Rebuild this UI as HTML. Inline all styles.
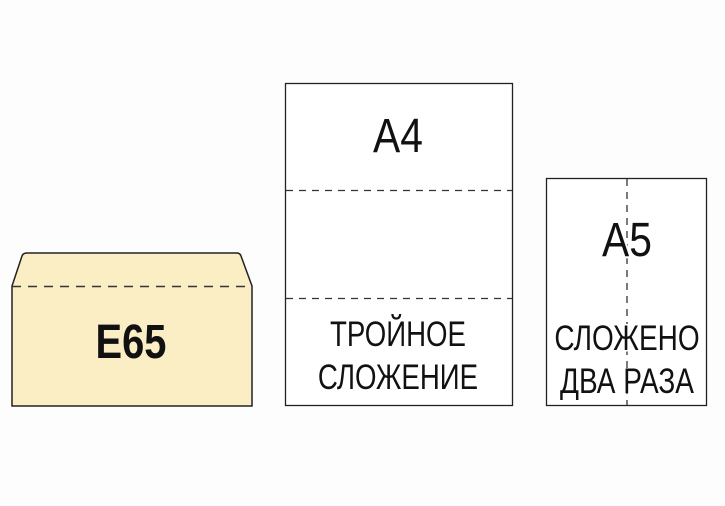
<!DOCTYPE html>
<html><head><style>
body{margin:0;background:#fdfdfd;}
svg{display:block}
text{font-family:"Liberation Sans",sans-serif;fill:#111}
</style></head><body>
<svg width="725" height="506" viewBox="0 0 725 506">
<rect width="725" height="506" fill="#fdfdfd"/>
<path d="M12,286 L22,256 Q23,253 27,253 L237,253 Q240,253 241,256 L252,286 L252,406 L12,406 Z" fill="#fbeec4" stroke="#222" stroke-width="1.5"/>
<line x1="12" y1="286.5" x2="252" y2="286.5" stroke="#333" stroke-width="1.5" stroke-dasharray="9,7"/>
<text x="131" y="358" font-size="48" font-weight="bold" text-anchor="middle" transform="translate(131 0) scale(0.83 1) translate(-131 0)">E65</text>

<rect x="285.5" y="83.5" width="227" height="322" fill="#fff" stroke="#222" stroke-width="1.3"/>
<line x1="286" y1="190.5" x2="512" y2="190.5" stroke="#333" stroke-width="1.3" stroke-dasharray="7,6"/>
<line x1="286" y1="298.5" x2="512" y2="298.5" stroke="#333" stroke-width="1.3" stroke-dasharray="7,6"/>
<text x="398" y="152" font-size="48" text-anchor="middle" transform="translate(398 0) scale(0.85 1) translate(-398 0)">A4</text>
<text x="398" y="346" font-size="35" text-anchor="middle" transform="translate(398 0) scale(0.79 1) translate(-398 0)">ТРОЙНОЕ</text>
<text x="398" y="389" font-size="35" text-anchor="middle" transform="translate(398 0) scale(0.79 1) translate(-398 0)">СЛОЖЕНИЕ</text>

<rect x="546.5" y="178.5" width="160" height="227" fill="#fff" stroke="#222" stroke-width="1.3"/>
<line x1="627" y1="179" x2="627" y2="405" stroke="#333" stroke-width="1.3" stroke-dasharray="7,6"/>
<text x="627" y="256" font-size="48" text-anchor="middle" transform="translate(627 0) scale(0.85 1) translate(-627 0)" style="paint-order:stroke" stroke="#fff" stroke-width="4">A5</text>
<text x="627" y="350" font-size="35" text-anchor="middle" transform="translate(627 0) scale(0.8 1) translate(-627 0)" style="paint-order:stroke" stroke="#fff" stroke-width="3">СЛОЖЕНО</text>
<text x="627" y="393" font-size="35" text-anchor="middle" transform="translate(627 0) scale(0.8 1) translate(-627 0)">ДВА РАЗА</text>
</svg>
</body></html>
